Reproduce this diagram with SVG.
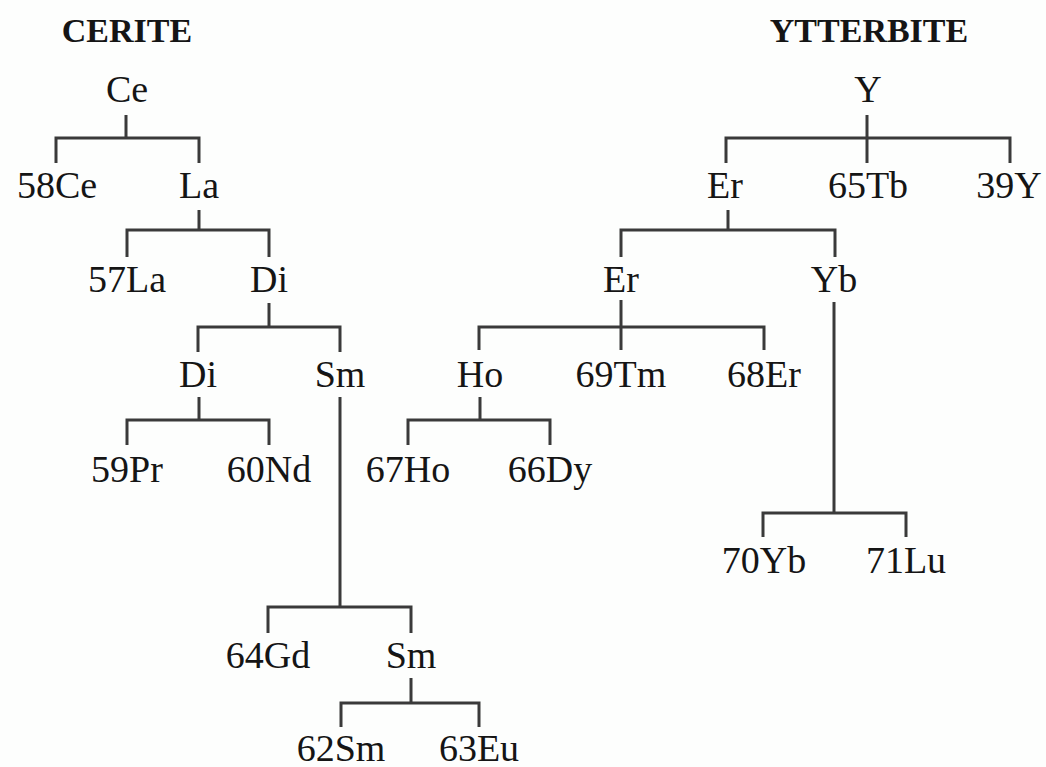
<svg xmlns="http://www.w3.org/2000/svg" width="1046" height="767" viewBox="0 0 1046 767">
<style>
.t{font-family:"Liberation Serif","Times New Roman",serif;font-size:38px;fill:#151515;text-anchor:middle}
.h{font-family:"Liberation Serif","Times New Roman",serif;font-size:34px;font-weight:bold;fill:#151515;text-anchor:middle}
.c{fill:none;stroke:#3a3a3a;stroke-width:3;stroke-linecap:butt}
</style>
<rect width="1046" height="767" fill="#fdfefd"/>
<g id="connectors" class="c">
<path d="M126 115V138M56 163V138H199V163"/>
<path d="M199 210V230M127 257V230H269V257"/>
<path d="M269 303V327M198 352V327H340V352"/>
<path d="M199 397V420M127 445V420H269V445"/>
<path d="M340 397V607M268 633V607H411V633"/>
<path d="M411 678V703M341 727V703H479V727"/>
<path d="M867 115V163M726 163V138H1010V163"/>
<path d="M728 210V230M621 257V230H835V257"/>
<path d="M621 300V350M479 350V327H764V350"/>
<path d="M480 397V420M408 445V420H550V445"/>
<path d="M834 302V513M763 537V513H906V537"/>
</g>
<g id="title-cerite"><text class="h" x="127" y="42">CERITE</text></g>
<g id="title-ytterbite"><text class="h" x="869" y="42">YTTERBITE</text></g>
<g id="n-ce"><text class="t" x="127" y="102">Ce</text></g>
<g id="n-58ce"><text class="t" x="57" y="198">58Ce</text></g>
<g id="n-la"><text class="t" x="199" y="198">La</text></g>
<g id="n-57la"><text class="t" x="127" y="292">57La</text></g>
<g id="n-di1"><text class="t" x="269" y="292">Di</text></g>
<g id="n-di2"><text class="t" x="198" y="387">Di</text></g>
<g id="n-sm1"><text class="t" x="340" y="387">Sm</text></g>
<g id="n-59pr"><text class="t" x="127" y="482">59Pr</text></g>
<g id="n-60nd"><text class="t" x="269" y="482">60Nd</text></g>
<g id="n-64gd"><text class="t" x="268" y="668">64Gd</text></g>
<g id="n-sm2"><text class="t" x="411" y="668">Sm</text></g>
<g id="n-62sm"><text class="t" x="341" y="761">62Sm</text></g>
<g id="n-63eu"><text class="t" x="479" y="761">63Eu</text></g>
<g id="n-y"><text class="t" x="868" y="102">Y</text></g>
<g id="n-er1"><text class="t" x="725" y="198">Er</text></g>
<g id="n-65tb"><text class="t" x="868" y="198">65Tb</text></g>
<g id="n-39y"><text class="t" x="1009" y="198">39Y</text></g>
<g id="n-er2"><text class="t" x="621" y="292">Er</text></g>
<g id="n-yb"><text class="t" x="834" y="292">Yb</text></g>
<g id="n-ho"><text class="t" x="480" y="387">Ho</text></g>
<g id="n-69tm"><text class="t" x="621" y="387">69Tm</text></g>
<g id="n-68er"><text class="t" x="764" y="387">68Er</text></g>
<g id="n-67ho"><text class="t" x="408" y="482">67Ho</text></g>
<g id="n-66dy"><text class="t" x="550" y="482">66Dy</text></g>
<g id="n-70yb"><text class="t" x="764" y="573">70Yb</text></g>
<g id="n-71lu"><text class="t" x="906" y="573">71Lu</text></g>
</svg>
